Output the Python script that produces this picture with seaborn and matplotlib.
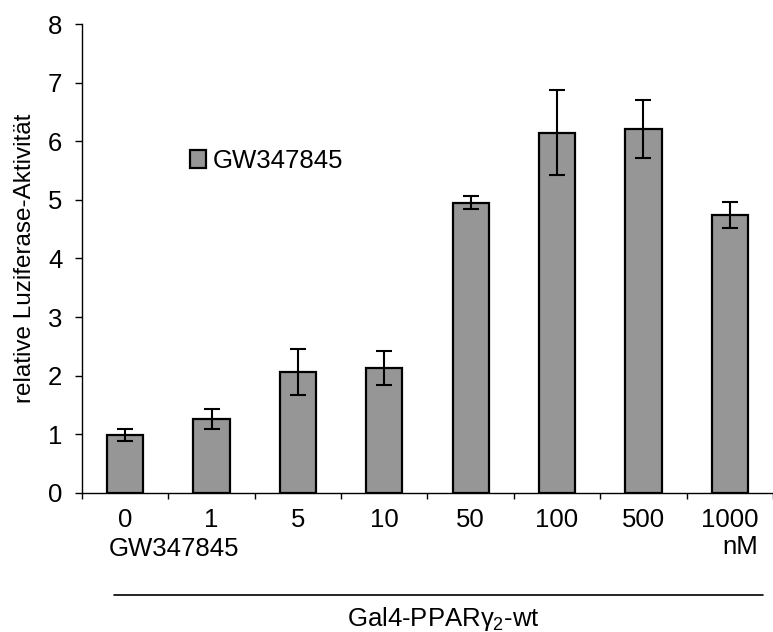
import matplotlib
matplotlib.use("Agg")
import matplotlib.pyplot as plt
import seaborn as sns
import pandas as pd
from matplotlib.ticker import FixedLocator
from matplotlib.transforms import blended_transform_factory

concentrations = ["0", "1", "5", "10", "50", "100", "500", "1000"]
activity = [0.99, 1.26, 2.06, 2.13, 4.95, 6.15, 6.21, 4.74]
errors = [0.10, 0.17, 0.39, 0.29, 0.11, 0.72, 0.50, 0.22]
yticks = [0, 1, 2, 3, 4, 5, 6, 7, 8]

sns.set_theme(style="ticks")
plt.rcParams["font.family"] = ["Liberation Sans", "DejaVu Sans"]
plt.rcParams["mathtext.fontset"] = "custom"
plt.rcParams["mathtext.rm"] = "Liberation Sans"
plt.rcParams["mathtext.it"] = "Liberation Sans"
for key in ["text.color", "axes.labelcolor", "xtick.color", "ytick.color",
            "xtick.labelcolor", "ytick.labelcolor", "axes.edgecolor"]:
    plt.rcParams[key] = "black"

fs = 18.5

df = pd.DataFrame({"conc": concentrations, "act": activity})

fig = plt.figure(figsize=(7.73, 6.32), dpi=100)
ax = fig.add_axes([0.106, 0.2204, 0.894, 0.7412])

sns.barplot(data=df, x="conc", y="act", order=concentrations, color="#969696",
            saturation=1, width=0.42, edgecolor="black", linewidth=1.6,
            errorbar=None, label="GW347845", ax=ax)
ax.errorbar(range(len(concentrations)), activity, yerr=errors, fmt="none",
            ecolor="black", elinewidth=1.5, capsize=5.5, capthick=1.5)

ax.set_xlim(-0.5, len(concentrations) - 0.5)
ax.set_ylim(0, 8)
ax.set_yticks(yticks)
ax.tick_params(axis="y", labelsize=fs, length=5, width=1, color="black",
               direction="out", pad=9)
ax.tick_params(axis="x", which="major", length=0, labelsize=fs, pad=11)
ax.xaxis.set_minor_locator(FixedLocator([i - 0.5 for i in range(len(concentrations) + 1)]))
ax.tick_params(axis="x", which="minor", length=4.5, width=1, color="black", direction="out")
labels = list(concentrations)
labels[-1] = "1000\nnM"
ax.set_xticklabels(labels)
for t in ax.get_xticklabels():
    t.set_multialignment("right")
    t.set_verticalalignment("top")
    t.set_linespacing(1.15)

ax.set_xlabel("")
ax.set_ylabel("relative Luziferase-Aktivität", fontsize=17.5, labelpad=9)

for side in ["top", "right"]:
    ax.spines[side].set_visible(False)
for side in ["left", "bottom"]:
    ax.spines[side].set_linewidth(1)

trans = blended_transform_factory(ax.transData, ax.transAxes)
ax.text(-0.19, -0.095, "GW347845", transform=trans, fontsize=fs,
        ha="left", va="top")

ax.legend(loc="center left", bbox_to_anchor=(0.156, 0.708), frameon=False,
          fontsize=fs, handlelength=0.65, handleheight=0.65,
          handletextpad=0.25, borderpad=0, borderaxespad=0)

fig.add_artist(plt.Line2D([114 / 773, 763 / 773], [1 - 595 / 632, 1 - 595 / 632],
                          color="black", linewidth=1.2))
fig.text(443 / 773, 1 - 619 / 632, r"Gal4-PPAR$\gamma_2$-wt", fontsize=fs,
         ha="center", va="center")

fig.savefig("out.png", dpi=100)
